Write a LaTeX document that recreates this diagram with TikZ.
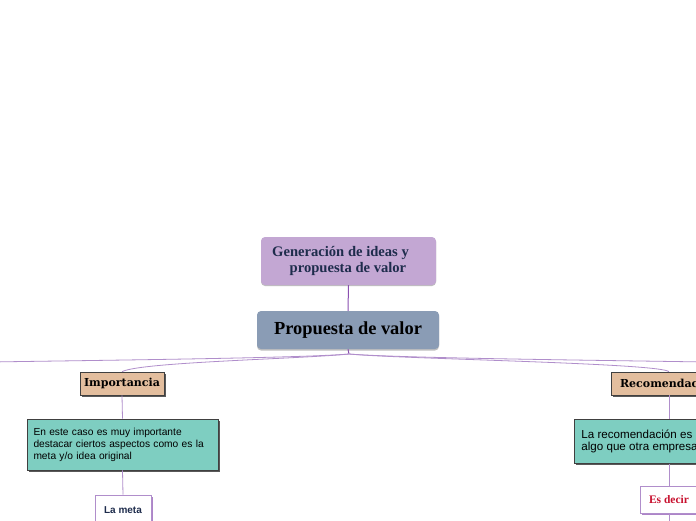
\documentclass[tikz,border=0pt]{standalone}
\usepackage{fontspec}
\setmainfont{Liberation Serif}
\newfontfamily\slabfont{DejaVu Serif}
\newfontfamily\bodyfont{Liberation Sans}
\usetikzlibrary{shadows}
\definecolor{genfill}{HTML}{C3A7D3}
\definecolor{mainfill}{HTML}{8A9CB5}
\definecolor{tanfill}{HTML}{E3BE9E}
\definecolor{tealfill}{HTML}{7ECEC1}
\definecolor{navytext}{HTML}{1E2C4C}
\definecolor{linkline}{HTML}{B08ECB}
\definecolor{darklink}{HTML}{8A4FB0}
\definecolor{redtext}{HTML}{C8102E}
\tikzset{
  topic/.style={rectangle,rounded corners=4pt,inner sep=0pt},
  label box/.style={rectangle,draw=black!75,fill=tanfill,line width=0.6pt,inner sep=3pt,
    drop shadow={shadow xshift=2pt,shadow yshift=-2pt,fill=black!65,opacity=1}},
  note box/.style={rectangle,draw=black!75,fill=tealfill,line width=0.6pt,
    drop shadow={shadow xshift=2pt,shadow yshift=-2pt,fill=black!65,opacity=1}},
  leaf box/.style={rectangle,draw=linkline,fill=white,line width=0.6pt,
    drop shadow={shadow xshift=1.5pt,shadow yshift=-1.5pt,fill=darklink!70,opacity=1}},
  link/.style={draw=linkline,line width=0.8pt}
}
\begin{document}
\begin{tikzpicture}[x=1pt,y=-1pt]
\useasboundingbox (0,0) rectangle (696,520);
\clip (0,0) rectangle (696,520);
\fill[white] (0,0) rectangle (696,520);

\node(G) at (348.5,261) [topic,fill=genfill,minimum width=175pt,minimum height=48pt,
  drop shadow={shadow xshift=0pt,shadow yshift=-1pt,fill=black!25,opacity=1}]
  {\fontsize{14.6}{16}\selectfont\bfseries\color{navytext}\begin{tabular}{@{}l@{\hspace{16pt}}}Generación de ideas y\\\hspace{1.2em}propuesta de valor\end{tabular}};
\node(P) at (348,330) [topic,fill=mainfill,minimum width=182pt,minimum height=38pt,
  drop shadow={shadow xshift=0pt,shadow yshift=-1.5pt,fill=black!25,opacity=1}]
  {\fontsize{18.4}{20}\selectfont\bfseries Propuesta de valor};
\coordinate(F) at (349,354);
\coordinate(L) at (-10,362);
\coordinate(R) at (706,362);

\node(I) at (122,383.5) [label box,minimum width=84pt,minimum height=23pt]
  {\slabfont\fontsize{11}{13}\selectfont\bfseries Importancia};
\node(IN) at (122.5,444.5) [note box,minimum width=191pt,minimum height=51pt,text width=178pt,align=left,inner sep=0pt]
  {\bodyfont\fontsize{10.2}{12}\selectfont En este caso es muy importante\\destacar ciertos aspectos como es la\\meta y/o idea original};
\node(LM) at (123,510) [leaf box,minimum width=56pt,minimum height=30pt]
  {\bodyfont\fontsize{10}{12}\selectfont\bfseries\color{navytext}La meta};

\node(RC) at (669,383.5) [label box,minimum width=116pt,minimum height=23pt]
  {\slabfont\fontsize{11}{13}\selectfont\bfseries Recomendación};
\node(RN) at (574,419) [note box,anchor=north west,minimum width=200pt,minimum height=44pt,text width=186pt,align=left,inner sep=0pt]
  {\bodyfont\fontsize{11.6}{14}\selectfont La recomendación es\\algo que otra empresa};
\node(ED) at (669,499.5) [leaf box,minimum width=58pt,minimum height=27pt]
  {\fontsize{11.5}{13}\selectfont\bfseries\color{redtext}Es decir};
\coordinate(EB) at (669,530);

\draw[draw=darklink,line width=1pt] (G.south) -- (P.north);
\draw[draw=darklink,line width=1pt] (P.south) -- (F);
\draw[link] (F) .. controls (300,358) and (120,360) .. (L);
\draw[link] (F) .. controls (300,359) and (140,362) .. (I.north);
\draw[link] (F) .. controls (400,358) and (580,360) .. (R);
\draw[link] (F) .. controls (400,359) and (660,363) .. (RC.north);
\draw[link] (I.south) -- (IN.north);
\draw[link] (IN.south) -- (LM.north);
\draw[link] (RC.south) -- (RN.north -| RC.south);
\draw[link] (RN.south -| RC.south) -- (ED.north);
\draw[link] (ED.south) -- (EB);
\end{tikzpicture}
\end{document}
